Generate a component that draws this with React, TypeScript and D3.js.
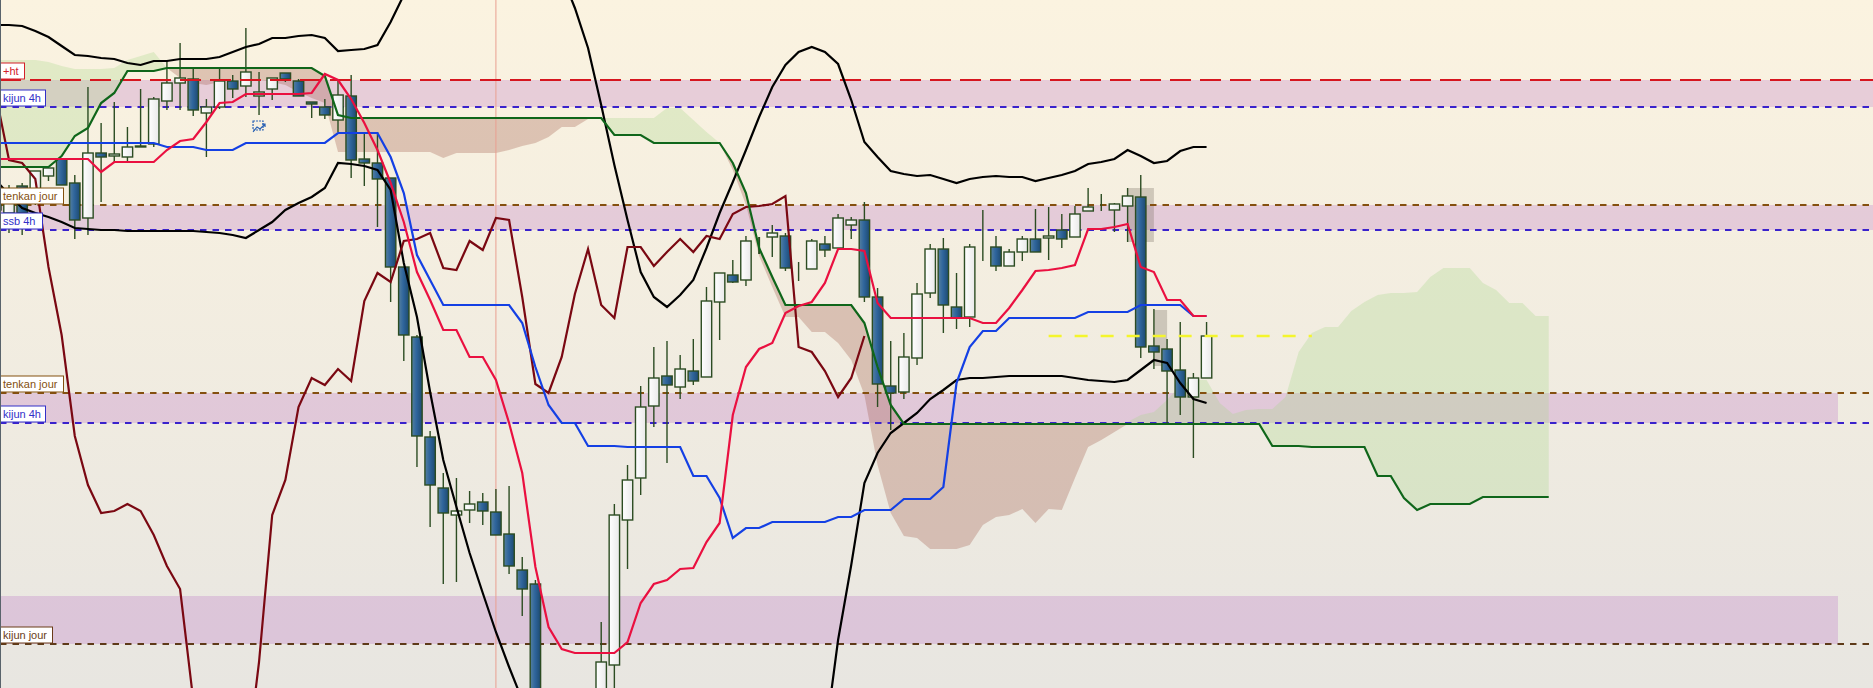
import { area, curveLinear, line, scaleLinear } from "d3";

const width = 1873;
const height = 688;

// prices, one row = 10 bars
const opens = [
  810, 787, 814, 800, 824, 841, 817, 782, 847, 844,
  843, 853, 856, 899, 917, 921, 887, 893, 919, 914,
  904, 911, 927, 919, 898, 893, 880, 904, 841, 837,
  822, 733, 663, 563, 512, 485, 490, 498, 488, 466,
  430, 416, 300, 240, 210, 210, 240, 335, 480, 522,
  594, 624, 613, 629, 623, 698, 725, 720, 761, 763,
  764, 730, 731, 756, 752, 775, 780, 703, 614, 608,
  642, 707, 751, 693, 683, 753, 753, 734, 748, 761,
  762, 770, 763, 789, 794, 790, 794, 803, 654, 651,
  630, 603, 622,
];
const highs = [
  815, 815, 817, 829, 832, 841, 825, 913, 877, 898,
  873, 911, 903, 939, 957, 932, 901, 932, 925, 972,
  928, 922, 927, 921, 898, 901, 921, 925, 867, 868,
  822, 733, 665, 569, 527, 522, 509, 507, 511, 514,
  443, 420, 305, 245, 215, 235, 378, 496, 535, 614,
  653, 659, 645, 661, 713, 727, 740, 764, 763, 775,
  767, 738, 761, 764, 786, 783, 798, 712, 659, 667,
  717, 756, 762, 727, 756, 790, 764, 751, 764, 791,
  793, 786, 794, 812, 806, 797, 812, 825, 691, 661,
  678, 627, 678,
];
const lows = [
  770, 767, 765, 795, 819, 815, 761, 765, 798, 838,
  838, 853, 853, 890, 890, 884, 843, 891, 902, 903,
  885, 900, 918, 904, 882, 881, 868, 822, 814, 773,
  698, 639, 533, 473, 416, 418, 477, 475, 465, 426,
  384, 290, 230, 200, 195, 200, 225, 300, 431, 505,
  573, 537, 601, 615, 623, 660, 717, 714, 746, 743,
  729, 719, 731, 743, 752, 761, 698, 593, 570, 601,
  635, 702, 667, 671, 673, 739, 729, 734, 739, 748,
  740, 752, 763, 789, 789, 768, 758, 642, 631, 575,
  585, 542, 622,
];
const closes = [
  790, 810, 787, 829, 832, 815, 780, 847, 843, 846,
  853, 854, 901, 917, 922, 890, 893, 919, 911, 928,
  908, 922, 921, 904, 896, 885, 905, 840, 837, 821,
  733, 665, 564, 515, 487, 489, 496, 489, 465, 434,
  411, 300, 240, 210, 210, 230, 338, 485, 520, 593,
  622, 615, 631, 619, 699, 727, 718, 759, 761, 767,
  732, 730, 759, 750, 782, 780, 703, 616, 607, 643,
  706, 751, 695, 682, 753, 753, 734, 748, 761, 748,
  764, 761, 786, 793, 794, 796, 804, 653, 648, 629,
  603, 622, 664,
];

const tenkan = [
  841, 841, 841, 841, 841, 841, 841, 841, 828, 838,
  838, 838, 838, 850, 859, 861, 878, 897, 898, 906,
  906, 906, 906, 906, 907, 926, 920, 901, 877, 850,
  817, 778, 728, 700, 670, 670, 643, 643, 620, 577,
  527, 433, 373, 351, 347, 347, 347, 347, 358, 397,
  416, 420, 431, 432, 458, 477, 585, 633, 651, 657,
  687, 694, 698, 717, 751, 751, 749, 697, 682, 682,
  682, 682, 682, 682, 682, 677, 677, 692, 710, 729,
  730, 732, 735, 771, 771, 773, 776, 733, 728, 700,
  700, 684, 684,
];
const kijun = [
  857, 857, 857, 857, 857, 857, 857, 857, 857, 857,
  857, 857, 857, 853, 853, 853, 850, 850, 850, 857,
  857, 857, 857, 857, 857, 857, 867, 867, 867, 867,
  843, 807, 745, 720, 695, 695, 695, 695, 695, 695,
  677, 633, 595, 577, 577, 554, 554, 554, 553, 553,
  553, 553, 553, 524, 524, 502, 462, 472, 472, 478,
  478, 478, 478, 478, 483, 483, 490, 490, 490, 501,
  501, 501, 513, 617, 653, 669, 669, 682, 682, 682,
  682, 682, 682, 688, 688, 688, 688, 695, 695, 695,
  695, 684, 684,
];
const chikou = [
  905, 840, 837, 821, 733, 665, 564, 515, 487, 489,
  496, 489, 465, 434, 411, 300, 240, 210, 210, 230,
  338, 485, 520, 593, 622, 615, 631, 619, 699, 727,
  718, 759, 761, 767, 732, 730, 759, 750, 782, 780,
  703, 616, 607, 643, 706, 751, 695, 682, 753, 753,
  734, 748, 761, 748, 764, 761, 786, 793, 794, 796,
  804, 653, 648, 629, 603, 622, 664,
];
const senkouA = [
  940, 940, 940, 940, 938, 934, 931, 931, 931, 932,
  940, 944, 948, 932, 922, 917, 915, 918, 920, 920,
  920, 918, 915, 908, 902, 897, 848, 848, 848, 848,
  848, 848, 848, 848, 842, 847, 847, 847, 847, 850,
  854, 857, 863, 873, 873, 881, 882, 882, 882, 882,
  882, 892, 892, 880, 868, 857, 830, 795, 744, 713,
  683, 683, 668, 668, 657, 640, 605, 535, 487, 464,
  462, 451, 451, 451, 455, 475, 483, 485, 491, 477,
  491, 490, 522, 553, 560, 568, 578, 585, 588, 600,
  615, 620, 620, 597, 586, 590, 591, 591, 603, 648,
  667, 673, 673, 689, 698, 705, 707, 707, 708, 723,
  732, 732, 732, 717, 710, 697, 697, 684, 684,
];
const senkouB = [
  833, 833, 833, 833, 833, 844, 864, 872, 897, 907,
  929, 929, 929, 932, 932, 932, 932, 932, 932, 932,
  932, 932, 932, 932, 932, 924, 885, 882, 882, 882,
  882, 882, 882, 882, 882, 882, 882, 882, 882, 882,
  882, 882, 882, 882, 882, 882, 882, 865, 865, 865,
  857, 857, 857, 857, 857, 857, 837, 807, 752, 723,
  695, 695, 695, 695, 695, 695, 677, 633, 595, 576,
  576, 576, 576, 576, 576, 576, 576, 576, 576, 576,
  576, 576, 576, 576, 576, 576, 576, 576, 576, 576,
  576, 576, 576, 576, 576, 576, 576, 554, 554, 554,
  553, 553, 553, 553, 553, 524, 524, 502, 490, 496,
  496, 496, 496, 503, 503, 503, 503, 503, 503,
];
const bandUpper = [
  975, 975, 974, 969, 963, 954, 945, 944, 942, 941,
  937, 935, 939, 939, 941, 941, 941, 943, 948, 953,
  956, 962, 962, 964, 965, 962, 949, 950, 951, 955,
  978, 1005, 1040, 1080, 1120, 1150, 1170, 1180, 1180, 1170,
  1140, 1100, 1060, 1025, 992, 952, 895, 835, 780, 728,
  703, 693, 705, 720, 752, 787, 818, 850, 883, 913,
  935, 948, 953, 948, 936, 900, 858, 843, 829, 826,
  824, 825, 821, 817, 821, 823, 824, 823, 823, 819,
  822, 825, 829, 836, 838, 841, 850, 844, 837, 839,
  849, 853, 853,
];
const bandLower = [
  820, 805, 792, 787, 783, 778, 772, 771, 770, 770,
  769, 769, 769, 769, 769, 769, 768, 767, 765, 762,
  770, 778, 790, 797, 803, 812, 837, 836, 834, 830,
  810, 737, 683, 608, 540, 493, 447, 407, 368, 333,
  300, 250, 200, 170, 150, 130, 120, 110, 100, 90,
  90, 80, 80, 80, 90, 100, 110, 120, 140, 160,
  180, 200, 230, 260, 360, 435, 517, 547, 567, 577,
  587, 601, 610, 620, 622, 622, 623, 624, 624, 624,
  624, 624, 622, 620, 619, 618, 620, 630, 640, 637,
  617, 601, 597,
];

const zoneTops = [920, 795, 607, 404];
const zoneBottoms = [893, 770, 577, 356];

const levelPrices = [795, 770, 607, 577, 893, 356];
const levelColors = ["#84500f", "#3a22cc", "#84500f", "#3a22cc", "#3a22cc", "#5e3a18"];
const resistance = 920;

const tagNames = ["+ht", "kijun 4h", "tenkan jour", "ssb 4h", "tenkan jour", "kijun 4h", "kijun jour"];
const tagPrices = [920, 893, 795, 770, 607, 577, 356];
const tagWidths = [24, 45, 63, 42, 63, 45, 52];
const tagColors = ["#d3202a", "#3230c8", "#84500f", "#3230c8", "#84500f", "#3230c8", "#6a3c18"];

const shadeFrom = [86, 88];
const shadeTo = [88, 89];
const shadeHigh = [812, 690];
const shadeLow = [758, 634];

const App = () => {
  document.body.style.margin = "0";
  const step = 13.16;
  const x = scaleLinear().domain([0, 118]).range([-4.16, -4.16 + step * 118]);
  const y = scaleLinear().domain([312, 1000]).range([height, 0]);
  const trace = line<number>()
    .x((_, i) => x(i))
    .y((d) => y(d))
    .curve(curveLinear);
  const cloudUp = area<number>()
    .x((_, i) => x(i))
    .y0((_, i) => y(senkouB[i]))
    .y1((d, i) => y(Math.max(d, senkouB[i])));
  const cloudDown = area<number>()
    .x((_, i) => x(i))
    .y0((_, i) => y(senkouB[i]))
    .y1((d, i) => y(Math.min(d, senkouB[i])));
  const bodyWidth = 10.4;

  return (
    <svg
      width={width}
      height={height}
      style={{ display: "block", position: "absolute", left: 0, top: 0 }}
    >
      <defs>
        <linearGradient id="bg" x1="0" y1="0" x2="0" y2="1">
          <stop offset="0" stopColor="#fbf3e0" />
          <stop offset="1" stopColor="#e8e6e1" />
        </linearGradient>
        <linearGradient id="down" x1="0" y1="0" x2="1" y2="0">
          <stop offset="0" stopColor="#55809f" />
          <stop offset="0.45" stopColor="#2f659c" />
          <stop offset="1" stopColor="#1d4a70" />
        </linearGradient>
        <linearGradient id="up" x1="0" y1="0" x2="1" y2="0">
          <stop offset="0" stopColor="#ffffff" />
          <stop offset="1" stopColor="#e9e9e9" />
        </linearGradient>
      </defs>
      <rect width={width} height={height} fill="url(#bg)" />

      {zoneTops.map((top, i) => (
        <rect
          key={i}
          x={0}
          y={y(top)}
          width={i < 2 ? width : 1838}
          height={y(zoneBottoms[i]) - y(top)}
          fill="#b86cc4"
          fillOpacity={0.27}
        />
      ))}

      <path d={cloudUp(senkouA) ?? ""} fill="#a9d88a" fillOpacity={0.3} />
      <path d={cloudDown(senkouA) ?? ""} fill="#a05a48" fillOpacity={0.3} />

      {shadeFrom.map((from, i) => (
        <rect
          key={i}
          x={x(from)}
          y={y(shadeHigh[i])}
          width={x(shadeTo[i]) - x(from)}
          height={y(shadeLow[i]) - y(shadeHigh[i])}
          fill="#7d7468"
          fillOpacity={0.32}
        />
      ))}

      <line x1={x(38)} x2={x(38)} y1={0} y2={height} stroke="#ea9f90" strokeWidth={1} />

      {levelPrices.map((p, i) => (
        <line
          key={i}
          x1={0}
          x2={width}
          y1={y(p)}
          y2={y(p)}
          stroke={levelColors[i]}
          strokeWidth={2}
          strokeDasharray="6.5 6"
        />
      ))}

      {opens.map((open, i) => {
        const close = closes[i];
        const up = close >= open;
        const top = y(Math.max(open, close));
        const bottom = y(Math.min(open, close));
        return (
          <g key={i} stroke="#2c4c22" strokeWidth={i === 58 ? 2 : 1.4}>
            <line x1={x(i)} x2={x(i)} y1={y(highs[i])} y2={y(lows[i])} />
            <rect
              x={x(i) - bodyWidth / 2}
              y={top}
              width={bodyWidth}
              height={bottom - top}
              fill={up ? "url(#up)" : "url(#down)"}
            />
          </g>
        );
      })}

      <line
        x1={x(80)}
        x2={x(100)}
        y1={y(664)}
        y2={y(664)}
        stroke="#f4f52c"
        strokeWidth={2.4}
        strokeDasharray="13 13"
      />

      <line
        x1={0}
        x2={width}
        y1={y(resistance)}
        y2={y(resistance)}
        stroke="#d6161f"
        strokeWidth={2.2}
        strokeDasharray="21 9"
      />

      <path d={trace(bandUpper) ?? ""} fill="none" stroke="#000" strokeWidth={2.2} />
      <path d={trace(bandLower) ?? ""} fill="none" stroke="#000" strokeWidth={2.2} />
      <path d={trace(chikou) ?? ""} fill="none" stroke="#7a0812" strokeWidth={2.2} />
      <path d={trace(senkouB) ?? ""} fill="none" stroke="#0f661a" strokeWidth={2.2} />
      <path d={trace(kijun) ?? ""} fill="none" stroke="#1440e4" strokeWidth={2.2} />
      <path d={trace(tenkan) ?? ""} fill="none" stroke="#ea1040" strokeWidth={2.2} />

      <g transform={`translate(${x(20)},${y(874)})`} fill="none" stroke="#2b62b4" strokeWidth={1.2}>
        <rect x={-6} y={-5} width={10} height={9} strokeDasharray="2 1" />
        <path d="M-6 6 L-2 1 L1 3 L6 -2 M3 -2 L6 -2 L6 1" />
      </g>

      {tagNames.map((name, i) => (
        <g key={i}>
          <rect
            x={0.5}
            y={y(tagPrices[i]) - 17}
            width={tagWidths[i]}
            height={16}
            fill="#ffffff"
            stroke={tagColors[i]}
            strokeWidth={1}
          />
          <text
            x={3}
            y={y(tagPrices[i]) - 5}
            fontFamily="'Liberation Sans', sans-serif"
            fontSize={11}
            fill={tagColors[i]}
          >
            {name}
          </text>
        </g>
      ))}

      <line x1={0.5} x2={0.5} y1={0} y2={height} stroke="#59636b" strokeWidth={1} />
    </svg>
  );
};

export default App;
